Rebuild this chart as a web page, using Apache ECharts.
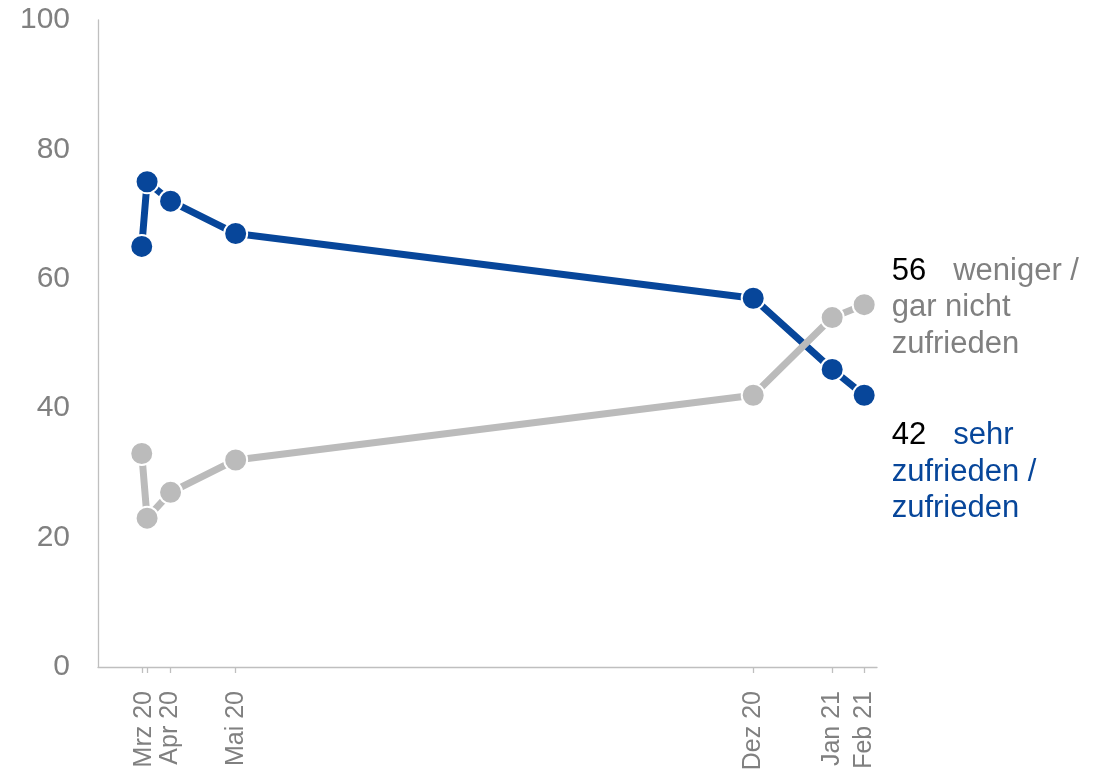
<!DOCTYPE html>
<html>
<head>
<meta charset="utf-8">
<script src="https://cdn.jsdelivr.net/npm/echarts@6/dist/echarts.min.js"></script>
<style>html,body{margin:0;padding:0;background:#fff}#c{width:1110px;height:776px}</style>
</head>
<body>
<div id="c"></div>
<script>
// x positions: days since 1 Mar 2020
const xDays = [20.5, 23, 34, 64.5, 307, 344, 359];
const tickLabels = ['Mrz 20', 'Apr 20', 'Mai 20', 'Dez 20', 'Jan 21', 'Feb 21'];
const labelDays = [21.5, 34, 64.5, 307, 344, 359];
const zufrieden = [65, 75, 72, 67, 57, 46, 42];
const nichtZufrieden = [33, 23, 27, 32, 42, 54, 56];
const yTicks = [0, 20, 40, 60, 80, 100];

const BLUE = '#07469A';
const GRAY = '#BBBBBB';
const TXT = '#808080';
const FONT = '"Liberation Sans", Arial, sans-serif';

const chart = echarts.init(document.getElementById('c'));
const lastIdx = xDays.length - 1;

function buildData(vals, labelCfg) {
  return vals.map((v, i) => {
    const d = { value: [xDays[i], v] };
    if (i === lastIdx) d.label = labelCfg;
    return d;
  });
}

chart.setOption({
  animation: false,
  grid: { left: 98, right: 233, top: 20, bottom: 109, containLabel: false },
  xAxis: {
    type: 'value', min: 0, max: 365,
    splitLine: { show: false },
    axisLine: { show: true, lineStyle: { color: '#BFBFBF', width: 1.3 } },
    axisTick: { show: true, length: 6, lineStyle: { color: '#BFBFBF', width: 1.3 }, customValues: xDays },
    axisLabel: {
      show: true, rotate: 90, margin: 24, color: TXT, fontSize: 25, fontFamily: FONT,
      customValues: labelDays,
      formatter: (v) => { const i = labelDays.indexOf(v); return i >= 0 ? tickLabels[i] : ''; }
    }
  },
  yAxis: {
    type: 'value', min: 0, max: 100, interval: 20,
    splitLine: { show: false },
    axisLine: { show: true, lineStyle: { color: '#BFBFBF', width: 1.3 } },
    axisTick: { show: false },
    axisLabel: { color: TXT, fontSize: 30, fontFamily: FONT, margin: 28,
      formatter: (v) => yTicks.includes(v) ? String(v) : '' }
  },
  series: [
    {
      name: 'sehr zufrieden / zufrieden', type: 'line',
      data: buildData(zufrieden, {
        show: true, position: 'right', distance: 15, offset: [0, 77],
        formatter: '{n|42}{t|sehr}\n{t|zufrieden /}\n{t|zufrieden}',
        rich: {
          n: { color: '#000', fontSize: 31, fontFamily: FONT, lineHeight: 36.5, padding: [0, 27, 0, 0] },
          t: { color: BLUE, fontSize: 31, fontFamily: FONT, lineHeight: 36.5 }
        }
      }),
      lineStyle: { color: BLUE, width: 7 },
      itemStyle: { color: BLUE, borderColor: '#fff', borderWidth: 2 },
      symbol: 'circle', symbolSize: 23, showAllSymbol: true, z: 2
    },
    {
      name: 'weniger / gar nicht zufrieden', type: 'line',
      data: buildData(nichtZufrieden, {
        show: true, position: 'right', distance: 15, offset: [0, 3],
        formatter: '{n|56}{t|weniger /}\n{t|gar nicht}\n{t|zufrieden}',
        rich: {
          n: { color: '#000', fontSize: 31, fontFamily: FONT, lineHeight: 36.5, padding: [0, 27, 0, 0] },
          t: { color: TXT, fontSize: 31, fontFamily: FONT, lineHeight: 36.5 }
        }
      }),
      lineStyle: { color: GRAY, width: 7 },
      itemStyle: { color: GRAY, borderColor: '#fff', borderWidth: 2 },
      symbol: 'circle', symbolSize: 23, showAllSymbol: true, z: 3
    }
  ]
});
</script>
</body>
</html>
